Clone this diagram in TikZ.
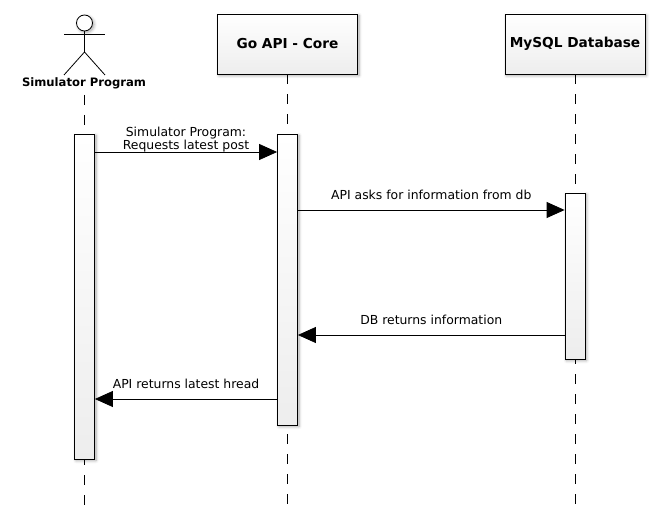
\documentclass[tikz,border=0pt]{standalone}
\usepackage{fontspec}
\setmainfont{DejaVu Sans}
\usetikzlibrary{positioning,arrows.meta,shadows.blur}
\tikzset{
    softshadow/.style={blur shadow={shadow xshift=1.5pt, shadow yshift=-1.5pt, shadow blur radius=3pt, shadow blur steps=6, shadow opacity=35}},
    lifebox/.style={draw, thick, minimum width=140pt, minimum height=60pt, inner sep=0pt,
        top color=white, bottom color=black!7, softshadow, font=\fontsize{13.7}{15}\selectfont\bfseries},
    actbar/.style={draw, thick, minimum width=20pt, inner sep=0pt,
        top color=white, bottom color=black!7, softshadow},
    lifeline/.style={draw, thick, dash pattern=on 10pt off 10pt},
    message/.style={draw, thick, -{Triangle[length=18pt,width=16pt]}},
    msgtext/.style={font=\fontsize{12.4}{13}\selectfont, align=center, inner sep=0pt}
}
\begin{document}
\begin{tikzpicture}[x=1pt, y=-1pt]
\useasboundingbox (0,0) rectangle (660,529);

% header
\node[lifebox] (core) at (287.5,44) {Go API - Core};
\node[lifebox] (mysql) at (575,44) {MySQL Database};

% actor
\node[circle, draw, thick, fill=white, minimum size=16pt, inner sep=0pt,
      softshadow] (head) at (84.5,23) {};
\coordinate (armL) at (64,34.5);
\coordinate (armR) at (105,34.5);
\coordinate (hip) at (84.5,52);
\coordinate (footL) at (64,75);
\coordinate (footR) at (105,75);
\draw[thick] (head) -- (hip);
\draw[thick] (armL) -- (armR);
\draw[thick] (footL) -- (hip) -- (footR);
\node[font=\fontsize{11.6}{13}\selectfont\bfseries, inner sep=0pt] (sim) at (84,83.5) {Simulator Program};

% lifelines
\coordinate (simend) at (84.5,505);
\coordinate (coreend) at (287.5,505);
\coordinate (mysqlend) at (575,505);
\coordinate (simstart) at (84.5,95);
\path[lifeline] (simstart) -- (simend);
\path[lifeline] (core) -- (coreend);
\path[lifeline] (mysql) -- (mysqlend);

% activations
\node[actbar, minimum height=325pt] (simbar) at (84.5,296.5) {};
\node[actbar, minimum height=291pt] (corebar) at (287.5,279.5) {};
\node[actbar, minimum height=166pt] (mysqlbar) at (575,276) {};

% messages
\coordinate (ya) at (0,152);
\coordinate (yb) at (0,210);
\coordinate (yc) at (0,335);
\coordinate (yd) at (0,399);
\path[message] (simbar.east |- ya) -- node[msgtext, above=0pt] {Simulator Program:\\Requests latest post} (corebar.west |- ya);
\path[message] (corebar.east |- yb) -- node[msgtext, above=10pt] {API asks for information from db} (mysqlbar.west |- yb);
\path[message] (mysqlbar.west |- yc) -- node[msgtext, above=9.5pt] {DB returns information} (corebar.east |- yc);
\path[message] (corebar.west |- yd) -- node[msgtext, above=9.5pt] {API returns latest hread} (simbar.east |- yd);

\end{tikzpicture}
\end{document}
